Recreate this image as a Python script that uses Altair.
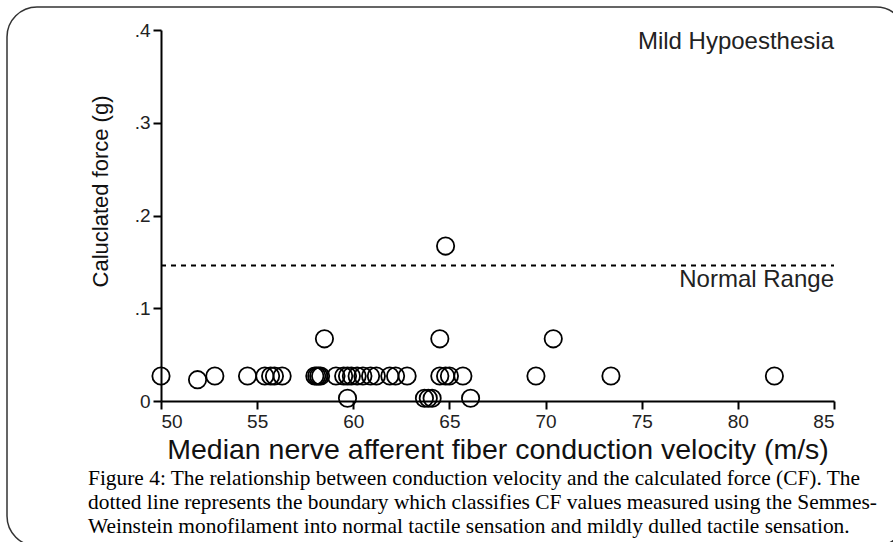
import altair as alt
import pandas as pd

# --- data ---
cv = [50.0, 51.9, 52.8, 54.5, 55.4, 55.7, 55.9, 56.3, 58.0, 58.1, 58.2, 58.3,
      59.1, 59.5, 59.7, 59.9, 60.2, 60.5, 60.9, 61.2, 61.9, 62.2, 62.8,
      64.5, 64.8, 65.0, 65.7, 69.5, 73.4, 81.9,
      58.5, 64.5, 70.4,
      64.8,
      59.7, 63.7, 63.9, 64.1, 66.1]
cf = [0.027, 0.023, 0.027, 0.027, 0.027, 0.027, 0.027, 0.027, 0.027, 0.027, 0.027, 0.027,
      0.027, 0.027, 0.027, 0.027, 0.027, 0.027, 0.027, 0.027, 0.027, 0.027, 0.027,
      0.027, 0.027, 0.027, 0.027, 0.027, 0.027, 0.027,
      0.067, 0.067, 0.067,
      0.167,
      0.003, 0.003, 0.003, 0.003, 0.003]

boundary_x = [50, 85]
boundary_y = [0.146]

label_text = ["Mild Hypoesthesia", "Normal Range"]
label_x = [85, 85]
label_y = [0.387, 0.130]

x_ticks = [50, 55, 60, 65, 70, 75, 80, 85]
y_ticks = [0, 0.1, 0.2, 0.3, 0.4]

caption = [
    "Figure 4: The relationship between conduction velocity and the calculated force (CF). The",
    "dotted line represents the boundary which classifies CF values measured using the Semmes-",
    "Weinstein monofilament into normal tactile sensation and mildly dulled tactile sensation.",
]

pts = pd.DataFrame({"cv": cv, "cf": cf})
rule_df = pd.DataFrame({"x": [boundary_x[0]], "x2": [boundary_x[1]], "y": boundary_y})
lab_df = pd.DataFrame({"t": label_text, "x": label_x, "y": label_y})
one_row = pd.DataFrame({"a": [0]})

xscale = alt.Scale(domain=[50, 85], nice=False, zero=False)
yscale = alt.Scale(domain=[0, 0.4], nice=False)

frame = alt.Chart(one_row).mark_rect(
    fillOpacity=0, stroke="#333333", strokeWidth=1.5, cornerRadius=30
).encode(
    x=alt.value(-154), x2=alt.value(745), y=alt.value(-23), y2=alt.value(516)
)

points = alt.Chart(pts).mark_point(
    shape="circle", filled=False, size=300, stroke="black", strokeWidth=1.8, opacity=1
).encode(
    x=alt.X("cv:Q", scale=xscale,
            axis=alt.Axis(values=x_ticks, title="Median nerve afferent fiber conduction velocity (m/s)",
                          titleFontSize=28.5, titlePadding=4, labelPadding=3)),
    y=alt.Y("cf:Q", scale=yscale,
            axis=alt.Axis(values=y_ticks, title="Caluclated force (g)",
                          labelExpr="datum.value == 0 ? '0' : replace(format(datum.value, '.1f'), '0.', '.')",
                          titleFontSize=22, titleX=-61, titleY=161, titleBaseline="middle",
                          labelPadding=3)),
)

rule = alt.Chart(rule_df).mark_rule(
    color="black", strokeWidth=2, strokeDash=[5, 5]
).encode(x="x:Q", x2="x2:Q", y="y:Q")

labels = alt.Chart(lab_df).mark_text(
    align="right", baseline="middle", font="Liberation Sans", fontSize=24, color="#222222"
).encode(x="x:Q", y="y:Q", text="t:N")

cap = alt.Chart(one_row).mark_text(
    text=caption, align="left", baseline="top", font="Liberation Serif",
    fontSize=21.4, lineHeight=24, color="black"
).encode(x=alt.value(-73), y=alt.value(438))

chart = alt.layer(frame, rule, points, labels, cap).properties(
    width=673, height=371,
    autosize=alt.AutoSizeParams(type="none"),
    padding={"left": 161, "top": 30, "right": 59, "bottom": 141},
).configure_view(stroke=None).configure_axis(
    domainColor="black", domainWidth=2, tickColor="black", tickWidth=2, tickSize=8,
    labelFont="Liberation Sans", labelFontSize=19, labelColor="#222222",
    titleFont="Liberation Sans", titleFontWeight="normal", titleColor="#111111", grid=False,
)

chart.save("out.html", embed_options={"renderer": "svg", "actions": False})
